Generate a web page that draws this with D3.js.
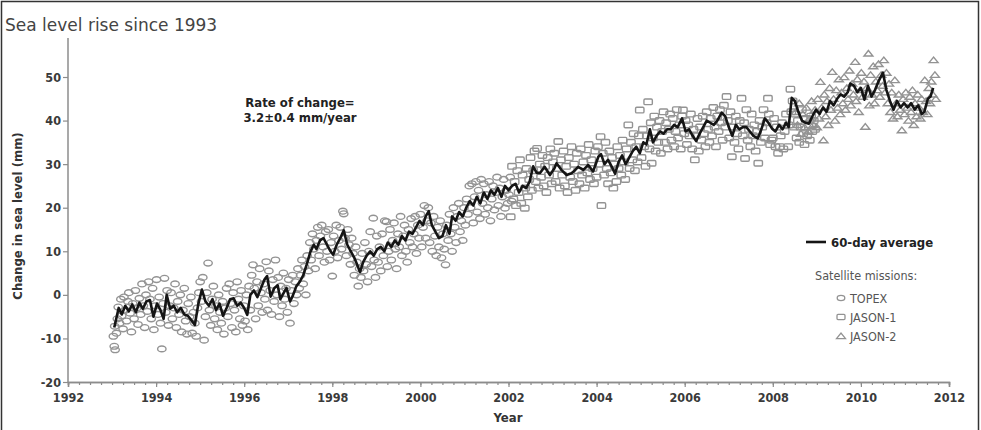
<!DOCTYPE html>
<html>
<head>
<meta charset="utf-8">
<script src="https://cdn.jsdelivr.net/npm/d3@7"></script>
<style>
  body { margin: 0; background: #fff; }
  svg { display: block; font-family: "DejaVu Sans", sans-serif; }
</style>
</head>
<body>
<div id="chart"></div>
<script>
// 60-day average [year, mm]
const avg60 = [
  [1993.05,-7.5],[1993.15,-3.0],[1993.22,-4.5],[1993.30,-2.5],[1993.38,-3.8],[1993.46,-2.2],[1993.54,-4.0],[1993.62,-1.8],
  [1993.70,-3.2],[1993.78,-1.5],[1993.86,-1.2],[1993.94,-5.0],[1994.02,-2.0],[1994.10,-3.5],[1994.17,-5.5],[1994.24,0.0],
  [1994.32,-3.2],[1994.40,-2.5],[1994.48,-4.0],[1994.56,-3.0],[1994.64,-4.5],[1994.72,-4.8],[1994.80,-5.8],[1994.88,-6.9],
  [1994.96,-2.0],[1995.04,1.2],[1995.12,-1.5],[1995.20,-2.5],[1995.28,-1.0],[1995.36,-3.5],[1995.44,-2.0],[1995.52,-4.8],
  [1995.60,-3.0],[1995.68,-1.0],[1995.76,-0.8],[1995.84,-2.5],[1995.92,-1.8],[1996.00,-3.0],[1996.07,-4.6],[1996.14,0.0],
  [1996.22,1.0],[1996.30,-0.5],[1996.38,1.5],[1996.46,3.5],[1996.52,4.3],[1996.60,-0.4],[1996.68,1.5],[1996.76,2.2],
  [1996.82,-1.0],[1996.90,0.5],[1996.96,1.6],[1997.04,-1.5],[1997.10,-0.3],[1997.18,1.9],[1997.26,3.0],[1997.34,4.5],
  [1997.42,7.0],[1997.50,9.8],[1997.58,11.5],[1997.64,10.5],[1997.72,12.5],[1997.80,13.0],[1997.88,11.5],[1997.96,10.0],
  [1998.02,9.2],[1998.10,11.5],[1998.18,13.0],[1998.26,14.8],[1998.34,11.5],[1998.42,10.0],[1998.50,8.5],[1998.56,7.0],
  [1998.63,5.2],[1998.70,7.5],[1998.78,9.0],[1998.86,10.0],[1998.94,9.0],[1999.02,10.5],[1999.10,11.0],[1999.18,10.0],
  [1999.26,12.0],[1999.34,11.0],[1999.42,12.5],[1999.50,11.5],[1999.58,13.5],[1999.66,12.5],[1999.74,14.5],[1999.82,14.0],
  [1999.90,15.5],[1999.98,17.0],[2000.06,16.0],[2000.12,18.0],[2000.19,19.2],[2000.26,16.0],[2000.34,14.5],[2000.42,13.0],
  [2000.50,13.5],[2000.58,16.0],[2000.66,14.0],[2000.72,18.0],[2000.80,17.0],[2000.88,19.0],[2000.96,18.0],[2001.04,20.0],
  [2001.12,21.5],[2001.20,20.5],[2001.28,22.5],[2001.36,21.0],[2001.44,23.5],[2001.52,22.0],[2001.60,24.0],[2001.68,23.0],
  [2001.76,24.5],[2001.84,22.5],[2001.92,25.0],[2002.00,24.0],[2002.08,25.0],[2002.16,25.5],[2002.24,23.5],[2002.32,25.0],
  [2002.40,24.5],[2002.48,26.0],[2002.56,29.5],[2002.64,28.0],[2002.72,28.0],[2002.82,29.4],[2002.94,27.5],[2003.04,29.0],
  [2003.09,30.2],[2003.20,28.7],[2003.32,27.5],[2003.43,27.9],[2003.50,28.5],[2003.58,29.4],[2003.70,28.7],[2003.81,29.8],
  [2003.92,28.3],[2004.04,31.7],[2004.10,32.3],[2004.18,30.0],[2004.26,31.0],[2004.34,29.5],[2004.42,27.8],[2004.50,30.5],
  [2004.58,32.0],[2004.66,30.0],[2004.74,31.5],[2004.82,33.0],[2004.90,34.0],[2004.98,32.5],[2005.06,35.0],[2005.13,34.5],
  [2005.21,38.0],[2005.28,35.0],[2005.36,36.5],[2005.44,37.5],[2005.52,37.0],[2005.60,38.0],[2005.68,38.0],[2005.76,39.0],
  [2005.84,38.5],[2005.94,40.5],[2006.02,37.5],[2006.10,38.0],[2006.18,36.5],[2006.26,35.3],[2006.34,37.0],[2006.42,38.5],
  [2006.50,40.0],[2006.58,39.5],[2006.66,39.0],[2006.74,40.0],[2006.84,41.8],[2006.92,41.0],[2007.00,38.5],[2007.08,36.5],
  [2007.16,39.0],[2007.24,38.0],[2007.32,38.5],[2007.40,38.5],[2007.48,37.5],[2007.56,36.5],[2007.66,35.9],[2007.74,38.0],
  [2007.82,40.5],[2007.90,39.5],[2007.98,38.2],[2008.06,37.5],[2008.14,39.0],[2008.22,38.0],[2008.30,39.5],[2008.36,38.5],
  [2008.43,45.2],[2008.50,44.5],[2008.58,42.0],[2008.66,40.0],[2008.74,39.5],[2008.82,39.3],[2008.90,41.0],[2008.98,42.5],
  [2009.06,41.5],[2009.14,43.0],[2009.22,42.0],[2009.30,44.5],[2009.38,43.5],[2009.46,45.0],[2009.54,46.0],[2009.62,45.5],
  [2009.70,46.5],[2009.76,48.5],[2009.84,48.0],[2009.92,46.5],[2010.00,47.5],[2010.08,44.8],[2010.16,48.0],[2010.24,45.5],
  [2010.32,47.0],[2010.40,49.0],[2010.50,51.0],[2010.58,47.0],[2010.66,44.5],[2010.74,42.5],[2010.82,44.5],[2010.90,43.0],
  [2010.98,44.0],[2011.06,43.0],[2011.14,44.0],[2011.22,42.5],[2011.30,43.5],[2011.38,41.5],[2011.44,42.0],[2011.52,45.0],
  [2011.58,45.5],[2011.64,47.5]
];

// satellite missions, [year, mm]
const topex = [
  [1993.03,-9.5],[1993.05,-11.8],[1993.07,-12.6],[1993.06,-7.2],[1993.1,-8.8],[1993.12,-5.5],[1993.14,-2.8],[1993.17,-6.5],[1993.2,-1.0],[1993.22,-4.8],[1993.25,-7.8],[1993.27,-0.5],[1993.3,-3.5],[1993.33,-6.0],[1993.36,-1.5],[1993.38,0.5],[1993.41,-4.2],[1993.44,-8.5],[1993.47,-2.0],[1993.5,-5.5],[1993.53,1.0],[1993.56,-3.0],[1993.59,-6.8],[1993.62,-0.8],[1993.65,-4.5],[1993.68,2.5],[1993.71,-2.5],[1993.74,-7.5],[1993.77,0.0],[1993.8,-3.8],[1993.83,3.0],[1993.86,-1.0],[1993.89,-5.5],[1993.92,1.5],[1993.95,-8.0],[1993.98,-2.5],
  [1994.01,3.5],[1994.04,-4.5],[1994.07,-0.5],[1994.1,-6.5],[1994.13,-12.4],[1994.16,-2.0],[1994.19,3.8],[1994.22,-4.0],[1994.25,1.0],[1994.28,-7.0],[1994.31,-2.5],[1994.34,0.5],[1994.37,-5.5],[1994.4,-3.0],[1994.43,2.5],[1994.46,-7.5],[1994.49,-1.5],[1994.52,-4.5],[1994.55,0.0],[1994.58,-8.5],[1994.61,-3.5],[1994.64,1.5],[1994.67,-6.0],[1994.7,-9.0],[1994.73,-2.0],[1994.76,-5.0],[1994.79,-0.5],[1994.82,-8.8],[1994.85,-4.0],[1994.88,-6.5],[1994.91,-9.5],[1994.94,-3.0],[1994.97,0.5],
  [1995.0,3.0],[1995.03,-1.5],[1995.06,4.0],[1995.09,-10.4],[1995.12,-5.0],[1995.15,0.5],[1995.18,7.3],[1995.21,-3.5],[1995.24,-7.0],[1995.27,-1.0],[1995.3,2.0],[1995.33,-5.5],[1995.36,-2.5],[1995.39,-8.0],[1995.42,0.0],[1995.45,-4.0],[1995.48,-6.5],[1995.51,-1.5],[1995.54,-9.0],[1995.57,-3.0],[1995.6,1.5],[1995.63,-5.0],[1995.66,2.5],[1995.69,-2.0],[1995.72,-7.5],[1995.75,0.5],[1995.78,-3.5],[1995.81,-8.5],[1995.84,3.0],[1995.87,-1.0],[1995.9,-5.5],[1995.93,1.0],[1995.96,-7.0],[1995.99,-2.5],
  [1996.02,-6.0],[1996.05,0.0],[1996.08,-8.0],[1996.11,2.0],[1996.14,-3.5],[1996.17,4.5],[1996.2,6.9],[1996.23,1.5],[1996.26,-5.5],[1996.29,3.0],[1996.32,-2.5],[1996.35,6.0],[1996.38,0.5],[1996.41,-4.0],[1996.44,2.5],[1996.47,-1.0],[1996.5,7.6],[1996.53,-3.5],[1996.56,5.5],[1996.59,1.0],[1996.62,-4.5],[1996.65,3.5],[1996.68,-1.5],[1996.71,8.0],[1996.74,0.0],[1996.77,4.0],[1996.8,-5.0],[1996.83,2.0],[1996.86,-2.5],[1996.89,5.0],[1996.92,-1.0],[1996.95,1.5],[1996.98,-4.0],
  [1997.01,3.5],[1997.04,-6.5],[1997.07,1.0],[1997.1,4.5],[1997.13,-2.0],[1997.16,3.0],[1997.19,0.0],[1997.22,6.0],[1997.25,1.5],[1997.28,4.5],[1997.31,8.0],[1997.34,2.5],[1997.37,6.5],[1997.4,0.0],[1997.43,9.0],[1997.46,5.5],[1997.49,12.0],[1997.52,8.0],[1997.55,14.0],[1997.58,10.5],[1997.61,6.0],[1997.64,12.5],[1997.67,15.5],[1997.7,9.0],[1997.73,13.5],[1997.76,16.0],[1997.79,11.0],[1997.82,7.5],[1997.85,14.5],[1997.88,10.0],[1997.91,15.0],[1997.94,8.0],[1997.97,12.0],
  [1998.0,4.3],[1998.03,13.5],[1998.06,10.0],[1998.09,16.0],[1998.12,8.5],[1998.15,12.5],[1998.18,15.5],[1998.21,10.5],[1998.24,19.2],[1998.26,18.6],[1998.29,13.0],[1998.32,9.0],[1998.35,15.0],[1998.38,11.5],[1998.41,7.0],[1998.44,13.0],[1998.47,9.5],[1998.5,4.5],[1998.53,11.0],[1998.56,7.5],[1998.59,2.0],[1998.62,6.0],[1998.65,4.0],[1998.68,9.5],[1998.71,5.5],[1998.74,12.0],[1998.77,7.0],[1998.8,3.0],[1998.83,10.0],[1998.86,14.5],[1998.89,6.5],[1998.93,17.6],[1998.95,8.0],[1998.98,4.0],
  [1999.01,13.5],[1999.04,7.5],[1999.07,11.0],[1999.1,5.5],[1999.13,14.0],[1999.16,9.0],[1999.19,17.0],[1999.23,16.8],[1999.25,6.5],[1999.28,10.0],[1999.31,15.0],[1999.34,8.0],[1999.37,12.5],[1999.4,16.5],[1999.43,10.5],[1999.46,6.0],[1999.49,14.0],[1999.52,11.0],[1999.55,18.0],[1999.58,9.0],[1999.61,13.5],[1999.64,16.0],[1999.67,10.0],[1999.7,7.5],[1999.73,15.0],[1999.76,12.0],[1999.79,17.5],[1999.82,11.0],[1999.85,14.0],[1999.88,18.0],[1999.91,9.5],[1999.94,16.0],[1999.97,13.0],
  [2000.0,18.5],[2000.03,11.0],[2000.06,15.5],[2000.09,20.5],[2000.12,13.0],[2000.15,17.0],[2000.18,20.0],[2000.21,12.0],[2000.24,16.5],[2000.27,10.0],[2000.3,18.0],[2000.33,13.5],[2000.36,9.0],[2000.39,15.5],[2000.42,11.0],[2000.45,17.0],[2000.48,8.5],[2000.51,14.0],[2000.54,10.5],[2000.57,6.9],[2000.6,16.0],[2000.63,12.5],[2000.66,18.5],[2000.69,14.0],[2000.72,10.0],[2000.75,20.0],[2000.78,15.5],[2000.81,12.0],[2000.84,18.0],[2000.87,21.0],[2000.9,14.5],[2000.93,17.0],[2000.96,12.5],[2000.99,20.0],
  [2001.02,16.0],[2001.05,22.0],[2001.08,18.5],[2001.11,25.0],[2001.14,20.0],[2001.17,25.5],[2001.2,16.5],[2001.23,22.5],[2001.26,26.0],[2001.29,19.0],[2001.32,24.0],[2001.35,17.5],[2001.38,26.5],[2001.41,21.0],[2001.44,25.5],[2001.47,18.5],[2001.5,23.0],[2001.53,20.0],[2001.56,26.0],[2001.59,17.0],[2001.62,22.0],[2001.65,25.0],[2001.68,19.5],[2001.71,23.5],[2001.74,27.0],[2001.77,20.5],[2001.8,24.5],[2001.83,18.0],[2001.86,22.5],[2001.89,26.5],[2001.92,19.9],[2001.95,24.0],[2001.98,21.0],
  [2002.01,23.0],[2002.04,27.0],[2002.07,21.5]
];

const jason1 = [
  [2002.05,17.9],[2002.08,29.5],[2002.11,22.0],[2002.14,26.0],[2002.17,20.5],[2002.2,28.5],[2002.23,23.5],[2002.26,31.0],[2002.29,21.0],[2002.32,27.5],[2002.37,19.9],[2002.38,24.5],[2002.41,29.0],[2002.44,22.5],[2002.47,26.5],[2002.5,31.5],[2002.53,24.0],[2002.56,28.5],[2002.59,33.0],[2002.62,26.0],[2002.65,33.6],[2002.68,24.5],[2002.71,30.0],[2002.74,27.0],[2002.77,32.0],[2002.8,25.0],[2002.83,29.5],[2002.86,23.5],[2002.89,31.5],[2002.92,27.5],[2002.95,33.5],[2002.98,25.5],
  [2003.01,30.5],[2003.04,32.5],[2003.07,26.0],[2003.1,29.0],[2003.13,35.2],[2003.16,24.5],[2003.19,31.0],[2003.22,27.5],[2003.25,33.0],[2003.28,25.0],[2003.31,29.5],[2003.34,23.5],[2003.37,31.5],[2003.4,27.0],[2003.43,34.0],[2003.46,26.0],[2003.49,30.0],[2003.52,24.0],[2003.55,32.5],[2003.58,28.5],[2003.61,25.5],[2003.64,33.5],[2003.67,27.5],[2003.7,30.5],[2003.73,24.5],[2003.76,32.0],[2003.79,28.0],[2003.82,34.5],[2003.85,26.5],[2003.88,31.0],[2003.91,29.0],[2003.94,25.5],[2003.97,33.0],
  [2004.0,27.0],[2004.03,34.0],[2004.06,30.0],[2004.09,36.3],[2004.11,20.5],[2004.14,32.5],[2004.17,27.5],[2004.2,35.0],[2004.23,29.0],[2004.26,25.5],[2004.29,33.0],[2004.32,28.0],[2004.35,31.5],[2004.38,24.5],[2004.41,30.0],[2004.45,26.0],[2004.47,34.0],[2004.5,29.0],[2004.53,32.0],[2004.56,27.5],[2004.59,35.5],[2004.62,30.5],[2004.65,26.5],[2004.68,33.5],[2004.72,39.0],[2004.75,29.0],[2004.78,35.0],[2004.81,31.0],[2004.84,37.0],[2004.87,28.5],[2004.9,34.0],[2004.93,30.5],[2004.96,36.5],[2004.98,42.4],
  [2005.02,31.5],[2005.05,38.0],[2005.08,34.0],[2005.11,29.5],[2005.14,36.5],[2005.17,44.3],[2005.2,33.5],[2005.23,39.5],[2005.25,30.2],[2005.28,36.0],[2005.31,41.0],[2005.34,33.0],[2005.37,38.5],[2005.4,35.0],[2005.43,40.0],[2005.46,32.5],[2005.49,37.5],[2005.52,42.0],[2005.55,35.0],[2005.58,39.5],[2005.61,33.5],[2005.64,38.0],[2005.67,41.5],[2005.7,35.5],[2005.73,40.5],[2005.76,34.0],[2005.79,37.5],[2005.82,42.5],[2005.85,36.0],[2005.88,39.0],[2005.91,33.5],[2005.94,41.0],[2005.96,42.4],[2005.99,37.0],
  [2006.02,40.0],[2006.05,34.5],[2006.08,39.0],[2006.11,36.5],[2006.14,41.5],[2006.17,33.5],[2006.2,38.0],[2006.23,31.0],[2006.26,36.5],[2006.29,40.5],[2006.32,33.0],[2006.35,38.5],[2006.38,35.5],[2006.41,41.0],[2006.44,37.0],[2006.47,34.0],[2006.5,42.0],[2006.53,38.0],[2006.56,35.0],[2006.59,40.5],[2006.62,36.5],[2006.65,43.0],[2006.68,38.5],[2006.71,34.0],[2006.74,41.0],[2006.77,37.5],[2006.8,42.5],[2006.83,39.5],[2006.86,35.5],[2006.89,43.5],[2006.92,38.5],[2006.95,45.5],[2006.98,40.0],
  [2007.01,36.0],[2007.04,42.0],[2007.07,31.7],[2007.1,38.5],[2007.13,35.0],[2007.16,41.0],[2007.19,37.0],[2007.22,33.5],[2007.25,40.0],[2007.29,45.1],[2007.32,36.5],[2007.35,39.5],[2007.37,31.3],[2007.4,42.5],[2007.43,35.5],[2007.46,38.0],[2007.49,34.0],[2007.52,41.5],[2007.55,36.5],[2007.58,39.0],[2007.61,33.0],[2007.64,37.5],[2007.67,30.2],[2007.7,40.0],[2007.73,35.0],[2007.76,38.5],[2007.79,42.5],[2007.82,36.0],[2007.86,39.5],[2007.89,45.1],[2007.91,41.5],[2007.94,34.5],[2007.97,35.5],
  [2008.0,36.0],[2008.03,40.5],[2008.06,34.0],[2008.09,38.5],[2008.12,32.5],[2008.16,34.0],[2008.18,36.5],[2008.21,39.5],[2008.24,33.5],[2008.27,37.5],[2008.3,41.5],[2008.35,34.0],[2008.36,39.0],[2008.4,47.2],[2008.42,42.0],[2008.45,44.5],[2008.48,38.5],[2008.51,41.5],[2008.54,36.0],[2008.57,40.0],[2008.6,35.0],[2008.63,38.5],[2008.66,42.5],[2008.69,37.0],[2008.72,34.5],[2008.75,40.5],[2008.78,36.5],[2008.81,39.0],[2008.84,35.5],[2008.87,41.0],[2008.9,37.5],[2008.93,40.0],[2008.96,38.0]
];

const jason2 = [
  [2008.52,42.0],[2008.56,39.0],[2008.6,44.0],[2008.64,37.0],[2008.68,41.5],[2008.72,38.5],[2008.76,43.0],[2008.81,37.5],[2008.84,40.5],[2008.88,44.5],[2008.92,39.0],[2008.96,42.5],[2009.0,38.5],
  [2009.02,45.0],[2009.05,40.5],[2009.08,48.9],[2009.11,43.0],[2009.15,35.5],[2009.17,46.0],[2009.2,41.0],[2009.23,44.5],[2009.26,39.0],[2009.29,47.5],[2009.32,42.5],[2009.35,51.2],[2009.38,45.0],[2009.41,40.0],[2009.44,47.0],[2009.47,43.0],[2009.5,49.5],[2009.53,41.5],[2009.56,46.5],[2009.59,44.0],[2009.62,50.0],[2009.65,42.5],[2009.68,47.5],[2009.71,45.0],[2009.74,51.5],[2009.77,43.5],[2009.8,48.5],[2009.83,46.0],[2009.87,53.5],[2009.89,44.5],[2009.92,49.5],[2009.95,42.0],[2009.98,47.0],
  [2010.01,51.0],[2010.04,45.5],[2010.07,49.0],[2010.1,38.6],[2010.13,47.5],[2010.17,55.4],[2010.19,43.5],[2010.22,50.5],[2010.25,46.0],[2010.28,52.5],[2010.31,44.0],[2010.34,49.0],[2010.37,47.0],[2010.4,53.0],[2010.43,45.5],[2010.46,50.5],[2010.49,48.0],[2010.52,53.9],[2010.55,46.5],[2010.58,51.0],[2010.61,44.0],[2010.64,48.5],[2010.67,42.0],[2010.7,46.5],[2010.73,40.5],[2010.77,49.3],[2010.8,44.0],[2010.83,41.0],[2010.86,46.0],[2010.89,42.5],[2010.93,37.8],[2010.96,45.0],[2010.99,41.5],
  [2011.02,46.5],[2011.05,43.0],[2011.08,40.0],[2011.11,45.5],[2011.14,42.0],[2011.17,47.0],[2011.2,39.0],[2011.23,44.0],[2011.26,41.0],[2011.29,46.0],[2011.32,43.0],[2011.35,40.5],[2011.38,45.0],[2011.41,42.0],[2011.45,49.3],[2011.48,44.5],[2011.51,41.5],[2011.54,47.5],[2011.57,44.0],[2011.6,49.0],[2011.63,46.0],[2011.65,53.9],[2011.68,50.5],[2011.7,45.0]
];

const xTicks = [1992, 1994, 1996, 1998, 2000, 2002, 2004, 2006, 2008, 2010, 2012];
const yTicks = [-20, -10, 0, 10, 20, 30, 40, 50];

const W = 981, H = 430;
const m = {left: 68, right: 32, top: 38, bottom: 48};
const svg = d3.select("#chart").append("svg").attr("width", W).attr("height", H);

// picture frame
svg.append("rect").attr("x", 1.5).attr("y", 1.5).attr("width", W - 4).attr("height", H + 10)
  .attr("fill", "none").attr("stroke", "#333").attr("stroke-width", 1.5);

const x = d3.scaleLinear().domain([1992, 2012]).range([m.left, 949]);
const y = d3.scaleLinear().domain([-20, 50]).range([382, 77]);

const axisCol = "#8c8c8c";
const tickFont = "'DejaVu Sans Condensed', 'DejaVu Sans', sans-serif";

// x axis: minor + major ticks
const gxMinor = svg.append("g").attr("transform", `translate(0,${y(-20)})`)
  .call(d3.axisBottom(x).tickValues(d3.range(1992, 2012.01, 0.25)).tickSize(3).tickFormat(""));
const gx = svg.append("g").attr("transform", `translate(0,${y(-20)})`)
  .call(d3.axisBottom(x).tickValues(xTicks).tickSize(5).tickFormat(d => String(d)));
[gxMinor, gx].forEach(g => {
  g.select(".domain").attr("stroke", axisCol).attr("stroke-width", 1.5);
  g.selectAll(".tick line").attr("stroke", axisCol).attr("stroke-width", 1.2);
});
gx.selectAll(".tick text").attr("dy", "0.95em").attr("fill", "#3a3a3a")
  .style("font-size", "12.5px").style("font-weight", "bold").style("font-family", tickFont);

// y axis, line extends above top tick
const gy = svg.append("g").attr("transform", `translate(${m.left},0)`)
  .call(d3.axisLeft(y).tickValues(yTicks).tickSize(5).tickSizeOuter(0).tickFormat(d => String(d)));
gy.select(".domain").attr("d", `M0,${y(-20)}V${m.top}`).attr("stroke", axisCol).attr("stroke-width", 1.5);
gy.selectAll(".tick line").attr("stroke", axisCol).attr("stroke-width", 1.2);
gy.selectAll(".tick text").attr("fill", "#3a3a3a").attr("x", -7)
  .style("font-size", "12.5px").style("font-weight", "bold").style("font-family", tickFont);

// markers
const mk = "#939393";
const pts = svg.append("g").attr("fill", "none").attr("stroke", mk).attr("stroke-width", 1.4);
pts.selectAll("ellipse").data(topex).join("ellipse")
  .attr("cx", d => x(d[0])).attr("cy", d => y(d[1])).attr("rx", 4.2).attr("ry", 2.9);
pts.selectAll("rect").data(jason1).join("rect")
  .attr("x", d => x(d[0]) - 4.2).attr("y", d => y(d[1]) - 2.8).attr("width", 8.4).attr("height", 5.6).attr("rx", 1.2);
const tri = "M-4.5,2.6L0,-3L4.5,2.6Z";
pts.selectAll("path").data(jason2).join("path")
  .attr("transform", d => `translate(${x(d[0])},${y(d[1])})`).attr("d", tri);

// 60-day average
svg.append("path").datum(avg60)
  .attr("fill", "none").attr("stroke", "#151515").attr("stroke-width", 2.6).attr("stroke-linejoin", "round")
  .attr("d", d3.line().x(d => x(d[0])).y(d => y(d[1])));

// titles
svg.append("text").attr("x", 5).attr("y", 31).text("Sea level rise since 1993")
  .attr("fill", "#444").style("font-size", "17px");
svg.append("text").attr("x", 508).attr("y", 422).attr("text-anchor", "middle").text("Year")
  .attr("fill", "#333").style("font-size", "13px").style("font-weight", "bold").style("font-family", tickFont);
svg.append("text").attr("transform", "translate(22,216) rotate(-90)").attr("text-anchor", "middle")
  .text("Change in sea level (mm)").attr("fill", "#333").style("font-size", "13px").style("font-weight", "bold")
  .style("font-family", tickFont);

// rate annotation
const ann = svg.append("text").attr("text-anchor", "middle").attr("fill", "#222")
  .style("font-size", "13px").style("font-weight", "bold").style("font-family", tickFont);
ann.append("tspan").attr("x", 300).attr("y", 107).text("Rate of change=");
ann.append("tspan").attr("x", 300).attr("y", 122).text("3.2±0.4 mm/year");

// legend
const lg = svg.append("g").style("font-family", tickFont);
lg.append("line").attr("x1", 806).attr("x2", 826).attr("y1", 242).attr("y2", 242)
  .attr("stroke", "#151515").attr("stroke-width", 2.6);
lg.append("text").attr("x", 831).attr("y", 246.5).text("60-day average")
  .attr("fill", "#222").style("font-size", "13px").style("font-weight", "bold");
lg.append("text").attr("x", 815).attr("y", 280).text("Satellite missions:")
  .attr("fill", "#555").style("font-size", "12.5px");
const items = [
  {name: "TOPEX", yy: 298},
  {name: "JASON-1", yy: 317},
  {name: "JASON-2", yy: 336}
];
lg.append("ellipse").attr("cx", 841).attr("cy", items[0].yy).attr("rx", 3.8).attr("ry", 2.6)
  .attr("fill", "none").attr("stroke", mk).attr("stroke-width", 1.3);
lg.append("rect").attr("x", 837).attr("y", items[1].yy - 2.6).attr("width", 8).attr("height", 5.2).attr("rx", 1)
  .attr("fill", "none").attr("stroke", mk).attr("stroke-width", 1.3);
lg.append("path").attr("transform", `translate(841,${items[2].yy})`).attr("d", tri)
  .attr("fill", "none").attr("stroke", mk).attr("stroke-width", 1.3);
lg.selectAll("text.it").data(items).join("text").attr("class", "it")
  .attr("x", 850).attr("y", d => d.yy + 4.5).text(d => d.name)
  .attr("fill", "#555").style("font-size", "12.5px");
</script>
</body>
</html>
